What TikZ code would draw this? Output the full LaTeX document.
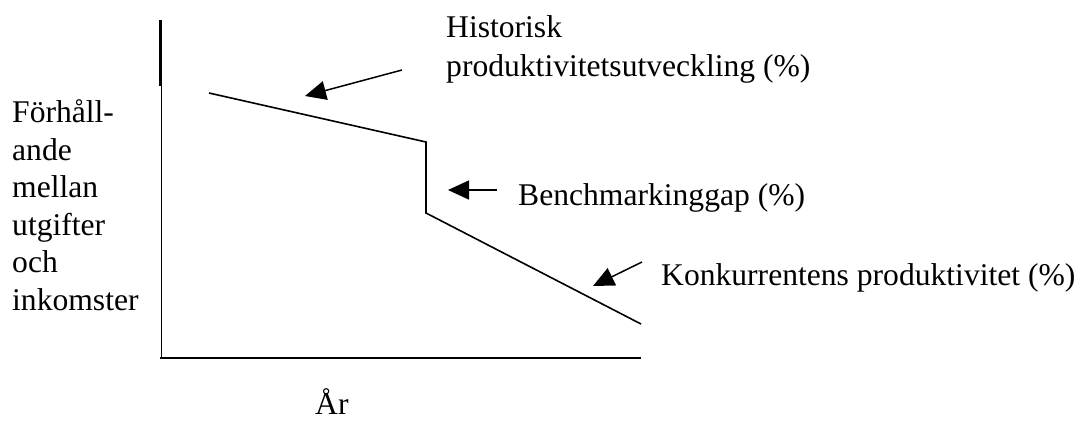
\documentclass[tikz,border=0pt]{standalone}
\usepackage{fontspec}
\setmainfont{Liberation Serif}
\usetikzlibrary{arrows.meta}
\begin{document}
\begin{tikzpicture}[x=1pt,y=-1pt,
  lbl/.style={anchor=base west,inner sep=0pt,font=\fontsize{31.6}{37.6}\selectfont},
  curve/.style={line width=1.6pt,line join=miter},
  axis/.style={line width=1.6pt},
  pointer/.style={line width=1.5pt,-{Triangle[length=21pt,width=19pt]}}]
\useasboundingbox (0,0) rectangle (1081,421);
% axes
\coordinate (ytop) at (160.5,20);
\coordinate (ymid) at (160.5,86);
\coordinate (ymid2) at (161.5,86);
\coordinate (yb) at (161.5,358);
\coordinate (ys) at (160,358);
\coordinate (xe) at (641,358);
\draw[line width=2.2pt] (ytop) -- (ymid);
\draw[line width=1.2pt] (ymid2) -- (yb);
\draw[axis] (ys) -- (xe);
% curve
\coordinate (p1) at (209,93);
\coordinate (p2) at (426,142);
\coordinate (p3) at (426,213);
\coordinate (p4) at (641,324);
\draw[curve] (p1) -- (p2) -- (p3) -- (p4);
% labels
\node[lbl] (h1) at (446,37) {Historisk};
\node[lbl] (h2) at (446,76) {produktivitetsutveckling (\%)};
\node[lbl] (b1) at (518,205) {Benchmarkinggap (\%)};
\node[lbl] (k1) at (661,285) {Konkurrentens produktivitet (\%)};
\node[lbl] (yr) at (315,414) {År};
\node[lbl] (l1) at (12,122) {Förhåll-};
\node[lbl] (l2) at (12,160) {ande};
\node[lbl] (l3) at (12,197) {mellan};
\node[lbl] (l4) at (12,235) {utgifter};
\node[lbl] (l5) at (12,272) {och};
\node[lbl] (l6) at (12,310) {inkomster};
% pointers
\coordinate (a1s) at (402,70);
\coordinate (a1e) at (305,96);
\coordinate (a2s) at (497,190);
\coordinate (a2e) at (448,190);
\coordinate (a3s) at (642,262);
\coordinate (a3e) at (593,286);
\draw[pointer] (a1s) -- (a1e);
\draw[pointer] (a2s) -- (a2e);
\draw[pointer] (a3s) -- (a3e);
\end{tikzpicture}
\end{document}
